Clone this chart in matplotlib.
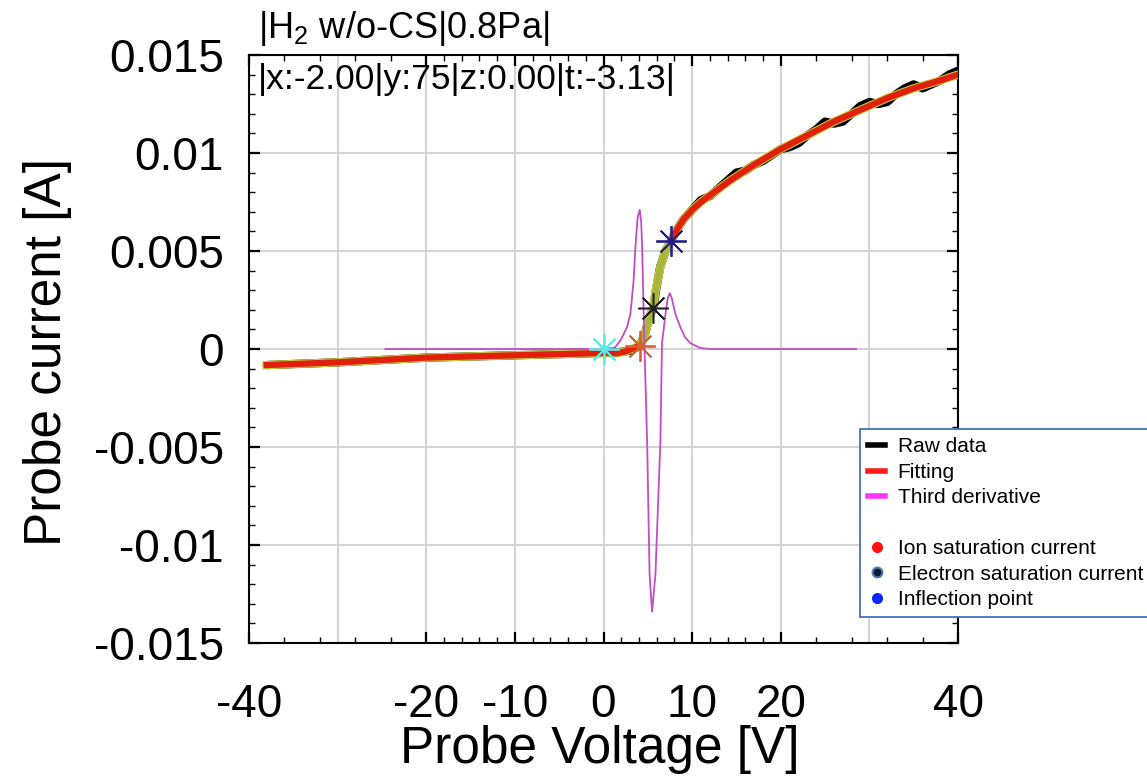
import matplotlib
matplotlib.use("Agg")
import matplotlib.pyplot as plt
from matplotlib.lines import Line2D
from matplotlib.ticker import FixedLocator, FixedFormatter

plt.rcParams['font.family'] = ['Liberation Sans', 'DejaVu Sans']
plt.rcParams['axes.unicode_minus'] = False
plt.rcParams['mathtext.fontset'] = 'custom'
plt.rcParams['mathtext.rm'] = 'Liberation Sans'
plt.rcParams['mathtext.it'] = 'Liberation Sans:italic'

# ---------------- data ----------------
# raw probe characteristic
raw_v = [-38, -30, -20, -10, 0, 2, 3, 4.1, 4.7, 5.1, 5.6, 6.0, 6.4, 7.0, 7.6, 8.3, 9.0,
         10, 11, 12, 13, 14, 15, 16, 17, 18, 19, 20, 21, 22, 23, 24, 25, 26, 27, 28,
         29, 30, 31, 32, 33, 34, 35, 36, 37, 38, 39, 40]
raw_i = [-0.00082, -0.00068, -0.00044, -0.00032, -0.00020, -0.00015, -0.00008, 0.00017,
         0.0008, 0.0015, 0.0021, 0.0032, 0.0042, 0.0050, 0.0055, 0.0061, 0.0066,
         0.0071, 0.0076, 0.0078, 0.0082, 0.0086, 0.0090, 0.0091, 0.0094, 0.0096, 0.0099,
         0.0102, 0.0103, 0.0105, 0.0109, 0.0112, 0.0116, 0.0115, 0.0116, 0.0120,
         0.0124, 0.0126, 0.0125, 0.0126, 0.0130, 0.0133, 0.0135, 0.0133, 0.0135,
         0.0137, 0.0140, 0.0142]

# fitting: ion region, transition region, electron region
ion_v = [-38, -30, -20, -10, -5, 0, 1.5, 2.5, 3.4, 4.1]
ion_i = [-0.00082, -0.00068, -0.00044, -0.00032, -0.00026, -0.00020, -0.00022,
         -0.00012, 0.00004, 0.00017]
trans_v = [4.1, 4.73, 5.1, 5.56, 5.97, 6.42, 6.99, 7.63]
trans_i = [0.00017, 0.0008, 0.0015, 0.0021, 0.0032, 0.0042, 0.0050, 0.0055]
elec_v = [7.63, 8.3, 9.0, 10.0, 11.0, 12.5, 14.3, 17, 20, 23, 26, 29, 32, 35, 38, 40]
elec_i = [0.0055, 0.0061, 0.0066, 0.0071, 0.0075, 0.0080, 0.0086, 0.0094, 0.0102,
          0.0109, 0.0116, 0.0122, 0.0128, 0.0133, 0.0137, 0.0140]

# third derivative (scaled)
third_v = [-24.6, -10, 0, 1.0, 1.35, 2.0, 2.67, 3.04, 3.4, 3.6, 3.85, 4.09, 4.25, 4.36,
           4.5, 4.6, 4.92, 5.2, 5.48, 5.86, 6.42, 6.6, 7.0, 7.25, 7.47, 7.7, 8.1,
           8.68, 9.2, 9.8, 10.9, 12, 20, 28.5]
third_i = [0, 0, 0, 0.00005, 0.0001, 0.0005, 0.00114, 0.0018, 0.0035, 0.0052, 0.0067,
           0.0071, 0.0065, 0.0052, 0.0025, 0.0005, -0.0047, -0.0115, -0.0134, -0.0115,
           -0.0047, 0.0003, 0.0018, 0.0026, 0.00285, 0.0026, 0.0018, 0.0011, 0.0006,
           0.0003, 0.00005, 0, 0, 0]

# characteristic points
float_pt = (0.0, 0.0)
ion_pt = (4.1, 0.00017)
infl_pt = (5.6, 0.0021)
elec_pt = (7.6, 0.0055)

# axis ticks
x_major = [-40, -20, -10, 0, 10, 20, 40]
x_major_labels = ['-40', '-20', '-10', '0', '10', '20', '40']
x_minor = [-36, -32, -28, -24, -18, -16, -14, -12, -8, -6, -4, -2, 2, 4, 6, 8,
           12, 14, 16, 18, 24, 28, 32, 36]
x_grid_extra = [-30, 30]
y_major = [-0.015, -0.01, -0.005, 0, 0.005, 0.01, 0.015]
y_major_labels = ['-0.015', '-0.01', '-0.005', '0', '0.005', '0.01', '0.015']
y_minor = [i / 1000 for i in range(-14, 15) if i % 5 != 0]

# ---------------- figure ----------------
fig = plt.figure(figsize=(11.47, 7.84), dpi=100)
ax = fig.add_axes([249 / 1147, 1 - 643 / 784, (958 - 249) / 1147, (643 - 55) / 784])

grid_col = '#d4d4d4'
for gx in x_grid_extra:
    ax.axvline(gx, color=grid_col, lw=1.5, zorder=0)
ax.grid(True, which='major', color=grid_col, lw=1.5, zorder=0)
ax.set_axisbelow(True)

ax.plot(raw_v, raw_i, color='black', lw=6, solid_capstyle='round', zorder=2)
ax.plot(ion_v + trans_v[1:] + elec_v[1:], ion_i + trans_i[1:] + elec_i[1:],
        color='#c8d040', lw=6, zorder=3)
ax.plot(trans_v, trans_i, color='#a8b43a', lw=4.5, zorder=3)
ax.plot(ion_v, ion_i, color='#e0200c', lw=4.5, zorder=4)
ax.plot(elec_v, elec_i, color='#e0200c', lw=4.5, zorder=4)
ax.plot(third_v, third_i, color='#c44cc4', lw=1.3, zorder=5)

ast = (8, 2, 0)
ax.plot(*float_pt, marker=ast, ms=22, mec='#5ee8e8', mew=1.3, ls='none', zorder=6)
ax.plot(*ion_pt, marker=ast, ms=22, mec='#d8602c', mew=1.3, ls='none', zorder=6)
ax.plot(*infl_pt, marker=ast, ms=22, mec='#202020', mew=1.1, ls='none', zorder=6)
ax.plot(*elec_pt, marker=ast, ms=22, mec='#20208c', mew=1.3, ls='none', zorder=6)

ax.set_xlim(-40, 40)
ax.set_ylim(-0.015, 0.015)
ax.xaxis.set_major_locator(FixedLocator(x_major))
ax.xaxis.set_major_formatter(FixedFormatter(x_major_labels))
ax.xaxis.set_minor_locator(FixedLocator(x_minor))
ax.yaxis.set_major_locator(FixedLocator(y_major))
ax.yaxis.set_major_formatter(FixedFormatter(y_major_labels))
ax.yaxis.set_minor_locator(FixedLocator(y_minor))

ax.tick_params(which='both', direction='in', top=True, right=True)
ax.tick_params(which='major', length=8, width=1.6, labelsize=33)
ax.tick_params(which='minor', length=4, width=1.0)
ax.tick_params(axis='x', which='major', pad=29)
ax.tick_params(axis='y', which='major', pad=18)
for sp in ax.spines.values():
    sp.set_linewidth(1.5)

ax.set_xlabel('Probe Voltage [V]', fontsize=37)
ax.xaxis.label.set_va('center')
ax.xaxis.set_label_coords((600 - 249) / 709, (643 - 749) / 588)
ax.set_ylabel('Probe current [A]', fontsize=37)
ax.yaxis.label.set_va('center')
ax.yaxis.set_label_coords((48 - 249) / 709, (643 - 352) / 588)

fig.text(258 / 1147, 1 - 28 / 784, r'|H$_\mathrm{2}$ w/o-CS|0.8Pa|', fontsize=26,
         va='center', ha='left')
ax.text((258 - 249) / 709, (643 - 80) / 588, '|x:-2.00|y:75|z:0.00|t:-3.13|',
        transform=ax.transAxes, fontsize=25.5, va='center', ha='left', zorder=7)

handles = [
    Line2D([], [], color='black', lw=4),
    Line2D([], [], color='#ff1a1a', lw=4),
    Line2D([], [], color='#ff33ff', lw=4),
    Line2D([], [], color='none'),
    Line2D([], [], ls='none', marker='o', ms=7, mfc='#ff1010', mec='#ff1010'),
    Line2D([], [], ls='none', marker='o', ms=7, mfc='#101830', mec='#4a78b0', mew=1.5),
    Line2D([], [], ls='none', marker='o', ms=7, mfc='#0a28ff', mec='#0a28ff'),
]
labels = ['Raw data', 'Fitting', 'Third derivative', ' ', 'Ion saturation current',
          'Electron saturation current', 'Inflection point']
leg = fig.legend(handles, labels, loc='upper left',
                 bbox_to_anchor=(860 / 1147, 1 - 429 / 784), borderaxespad=0,
                 fontsize=15, frameon=True, fancybox=False, framealpha=1,
                 edgecolor='#4472c4', handlelength=0.8, handletextpad=0.6,
                 labelspacing=0.31, borderpad=0.4)
leg.get_frame().set_linewidth(1.3)

fig.savefig('out.png', dpi=100)
